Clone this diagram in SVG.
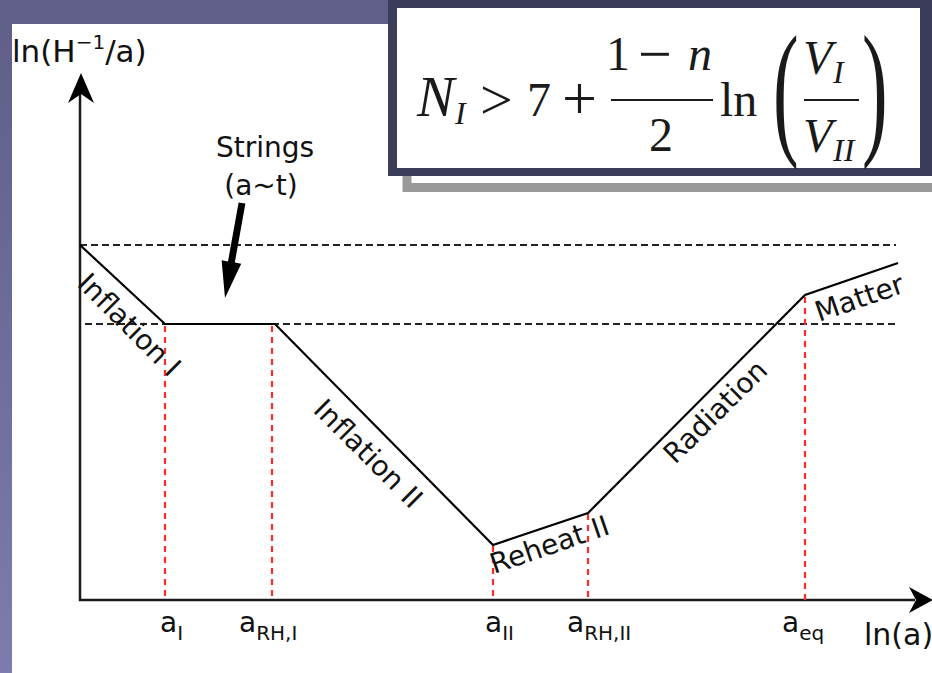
<svg xmlns="http://www.w3.org/2000/svg" width="932" height="673" viewBox="0 0 932 673">
<defs>
<linearGradient id="side" x1="0" y1="0" x2="0" y2="1">
<stop offset="0" stop-color="#5e5e88"/>
<stop offset="1" stop-color="#7c7cae"/>
</linearGradient>
<style>
.lbl{font-family:"DejaVu Sans",sans-serif;font-size:28px;fill:#111}
.sub{font-family:"DejaVu Sans",sans-serif;font-size:20px;fill:#111}
.m{font-family:"Liberation Serif","Times New Roman",serif;font-size:48px;fill:#1a1a1a}
.mi{font-family:"Liberation Serif","Times New Roman",serif;font-size:48px;font-style:italic;fill:#1a1a1a}
.ms{font-family:"Liberation Serif","Times New Roman",serif;font-size:32px;font-style:italic;fill:#1a1a1a}
.curve{fill:none;stroke:#000;stroke-width:2.2;stroke-linejoin:miter}
.ref{stroke:#222;stroke-width:2.2;stroke-dasharray:7 4}
.red{stroke:#ff2b2b;stroke-width:2.2;stroke-dasharray:6 5}
.axis{stroke:#1a1a1a;stroke-width:2.5}
</style>
</defs>
<rect x="0" y="0" width="932" height="673" fill="#fff"/>
<rect x="0" y="0" width="12" height="673" fill="url(#side)"/>
<rect x="0" y="0" width="932" height="24" fill="#5f5f89"/>

<g id="formula">
<rect x="407" y="40" width="540" height="147.5" fill="none" stroke="#999" stroke-width="9"/>
<rect x="388" y="0" width="560" height="176" fill="#3b3b5a"/>
<rect x="397" y="8" width="523" height="160" fill="#fff"/>
<text class="mi" x="417" y="116" style="font-size:56px">N</text>
<text class="ms" x="455" y="124">I</text>
<text class="m" x="480" y="119" style="font-size:58px">&gt;</text>
<text class="m" x="527" y="116">7</text>
<text class="m" x="562" y="119" style="font-size:62px">+</text>
<text class="m" x="606" y="70">1</text>
<text class="m" x="638" y="74" style="font-size:60px">−</text>
<text class="mi" x="688" y="70">n</text>
<line x1="611" y1="100" x2="713" y2="100" stroke="#1a1a1a" stroke-width="2.2"/>
<text class="m" x="649" y="151">2</text>
<text class="m" x="720" y="116">ln</text>
<text class="m" transform="translate(773,138) scale(0.52,1)" style="font-size:148px">(</text>
<text class="mi" x="803" y="74">V</text>
<text class="ms" x="833" y="83">I</text>
<line x1="804" y1="100" x2="859" y2="100" stroke="#1a1a1a" stroke-width="2.2"/>
<text class="mi" x="803" y="152">V</text>
<text class="ms" x="833" y="161">II</text>
<text class="m" transform="translate(862,138) scale(0.52,1)" style="font-size:148px">)</text>
</g>

<g id="axes">
<line class="axis" x1="80" y1="601" x2="80" y2="92"/>
<path d="M81,73 L94,103 L81,94 L68,103 Z" fill="#000"/>
<line class="axis" x1="79" y1="600" x2="915" y2="600"/>
<path d="M933,600 L909,587 L916,600 L909,613 Z" fill="#000"/>
<text class="lbl" x="12" y="62" style="font-size:31px">ln(H<tspan font-size="20" dy="-13">−1</tspan><tspan dy="13">/a)</tspan></text>
<text class="lbl" x="864" y="645" style="font-size:30px">ln(a)</text>
</g>

<g id="guides">
<line class="ref" x1="80" y1="245" x2="896" y2="245"/>
<line class="ref" x1="85" y1="324" x2="896" y2="324"/>
<line class="red" x1="165" y1="326" x2="165" y2="600"/>
<line class="red" x1="272" y1="326" x2="272" y2="600"/>
<line class="red" x1="493" y1="546" x2="493" y2="600"/>
<line class="red" x1="588" y1="514" x2="588" y2="600"/>
<line class="red" x1="805" y1="297" x2="805" y2="600"/>
</g>

<g id="connectors">
<polyline class="curve" points="80,245 165,324 275,324 493,545 588,513 805,295 898,263"/>
<polygon points="238.6,202.4 245.4,203.6 234.8,262.6 241.2,263.8 225,298 221.6,260.2 228,261.4" fill="#000"/>
</g>

<g id="phase-labels">
<text class="lbl" transform="translate(76,285) rotate(45)">Inflation I</text>
<text class="lbl" transform="translate(312,411) rotate(45)">Inflation II</text>
<text class="lbl" transform="translate(494,574) rotate(-19)">Reheat II</text>
<text class="lbl" transform="translate(675,465) rotate(-44.7)">Radiation</text>
<text class="lbl" transform="translate(819,322) rotate(-19)">Matter</text>
<text class="lbl" x="265" y="157" text-anchor="middle">Strings</text>
<text class="lbl" x="261" y="195" text-anchor="middle">(a~t)</text>
</g>

<g id="tick-labels">
<text class="lbl" x="160" y="632">a<tspan class="sub" dy="8">I</tspan></text>
<text class="lbl" x="239" y="632">a<tspan class="sub" dy="8">RH,I</tspan></text>
<text class="lbl" x="485" y="632">a<tspan class="sub" dy="8">II</tspan></text>
<text class="lbl" x="567" y="632">a<tspan class="sub" dy="8">RH,II</tspan></text>
<text class="lbl" x="782" y="632">a<tspan class="sub" dy="8">eq</tspan></text>
</g>
</svg>
